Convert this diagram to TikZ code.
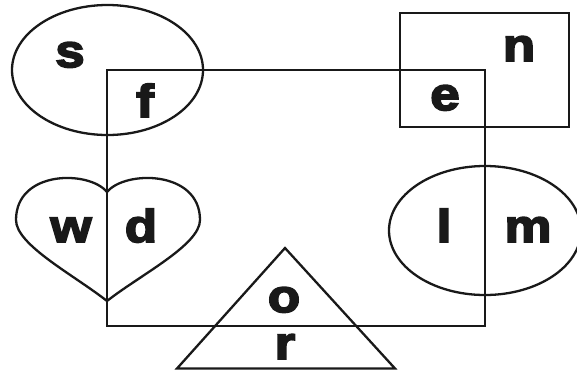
\documentclass[tikz,border=0pt]{standalone}
\usepackage{fontspec}
\setmainfont{Liberation Sans}[BoldFeatures={FakeBold=4,FakeStretch=1.15}]
\begin{document}
\begin{tikzpicture}[x=1pt,y=-1pt,
  shapeline/.style={draw=black!90, line width=2.3pt},
  lbl/.style={anchor=base, inner sep=0pt, font=\fontsize{46}{46}\selectfont\bfseries, text=black!90}]
\useasboundingbox (0,0) rectangle (577,373);
% main rectangle
\draw[shapeline] (107,70) rectangle (485,326);
% top-left ellipse
\draw[shapeline] (107.5,70) ellipse [x radius=95.5, y radius=65];
% top-right square
\draw[shapeline] (400,13) rectangle (569,127);
% right ellipse
\draw[shapeline] (485,230.5) ellipse [x radius=96, y radius=64.5];
% heart
\draw[shapeline] (107,192) .. controls (125,170) and (200,170) .. (200,220)
  .. controls (200,245) and (140,275) .. (107,301)
  .. controls (74,275) and (16,245) .. (16,220)
  .. controls (16,170) and (89,170) .. (107,192) -- cycle;
% triangle
\draw[shapeline, line join=miter] (285,248) -- (395,368.5) -- (177,368.5) -- cycle;
% labels
\node[lbl] (s) at (70,67) {s};
\node[lbl] (f) at (145,117) {f};
\node[lbl] (e) at (445,110) {e};
\node[lbl] (n) at (519,61) {n};
\node[lbl] (w) at (71,242) {w};
\node[lbl] (d) at (141,242) {d};
\node[lbl] (l) at (444,242) {l};
\node[lbl] (m) at (528,242) {m};
\node[lbl] (o) at (284,312) {o};
\node[lbl] (r) at (285,359) {r};
\end{tikzpicture}
\end{document}
